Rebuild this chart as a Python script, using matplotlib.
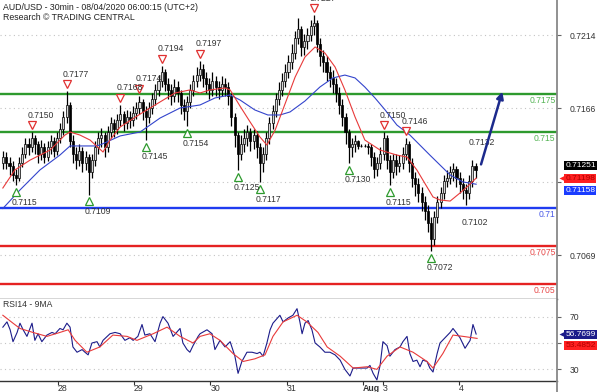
import matplotlib
matplotlib.use("Agg")
import matplotlib.pyplot as plt
import numpy as np
from matplotlib.transforms import offset_copy, blended_transform_factory
from matplotlib.patches import FancyArrowPatch
from matplotlib.lines import Line2D

plt.rcParams['font.family'] = ['Liberation Sans', 'DejaVu Sans']

# ---------------- data (hourly candles, prices in 1/10000) ----------------
open_first = 7130
close_pips = [
    7134, 7130, 7128, 7122, 7120, 7130, 7136, 7142, 7140, 7146,
    7142, 7136, 7140, 7134, 7140, 7144, 7138, 7146, 7152, 7160,
    7168, 7144, 7136, 7132, 7138, 7130, 7134, 7124, 7132, 7140,
    7146, 7148, 7140, 7150, 7156, 7152, 7158, 7162, 7156, 7160,
    7158, 7163, 7166, 7170, 7164, 7160, 7166, 7172, 7178, 7184,
    7190, 7182, 7178, 7174, 7180, 7176, 7168, 7164, 7170, 7178,
    7184, 7188, 7192, 7186, 7182, 7178, 7184, 7180, 7178, 7182,
    7180, 7174, 7160, 7148, 7136, 7142, 7146, 7150, 7144, 7148,
    7140, 7130, 7136, 7146, 7156, 7164, 7172, 7178, 7184, 7190,
    7196, 7202, 7212, 7218, 7206, 7210, 7214, 7220, 7222, 7208,
    7200, 7196, 7190, 7186, 7182, 7176, 7168, 7160, 7150, 7140,
    7142, 7144, 7141, 7141, 7141, 7140, 7134, 7126, 7130, 7136,
    7146, 7132, 7124, 7132, 7128, 7130, 7136, 7142, 7130, 7120,
    7116, 7110, 7104, 7098, 7090, 7080, 7094, 7104, 7110, 7118,
    7120, 7124, 7126, 7120, 7116, 7112, 7110, 7118, 7128, 7125]
high_pips = [
    7138, 7137, 7134, 7131, 7126, 7134, 7140, 7146, 7146, 7150,
    7148, 7144, 7145, 7143, 7144, 7148, 7147, 7150, 7156, 7164,
    7177, 7170, 7148, 7140, 7142, 7140, 7138, 7136, 7136, 7144,
    7150, 7153, 7150, 7154, 7160, 7159, 7162, 7168, 7164, 7165,
    7164, 7167, 7170, 7174, 7172, 7167, 7170, 7176, 7182, 7188,
    7194, 7192, 7186, 7182, 7185, 7184, 7178, 7172, 7174, 7182,
    7188, 7193, 7197, 7195, 7190, 7186, 7190, 7187, 7184, 7187,
    7186, 7183, 7176, 7163, 7150, 7148, 7152, 7155, 7153, 7152,
    7151, 7143, 7140, 7150, 7160, 7168, 7176, 7183, 7189, 7195,
    7201, 7208, 7217, 7225, 7220, 7215, 7219, 7224, 7227, 7224,
    7212, 7204, 7200, 7194, 7191, 7186, 7180, 7172, 7163, 7152,
    7146, 7148, 7145, 7142, 7142, 7143, 7142, 7137, 7134, 7140,
    7150, 7148, 7135, 7136, 7136, 7135, 7140, 7146, 7144, 7133,
    7124, 7120, 7114, 7108, 7102, 7094, 7098, 7108, 7114, 7122,
    7125, 7128, 7130, 7128, 7124, 7120, 7116, 7122, 7132, 7130]
low_pips = [
    7126, 7126, 7122, 7118, 7115, 7118, 7127, 7133, 7135, 7137,
    7136, 7130, 7132, 7130, 7131, 7136, 7134, 7135, 7143, 7148,
    7156, 7140, 7130, 7126, 7128, 7124, 7125, 7109, 7120, 7128,
    7136, 7140, 7134, 7137, 7146, 7147, 7149, 7154, 7151, 7152,
    7153, 7154, 7159, 7162, 7158, 7145, 7156, 7162, 7168, 7174,
    7180, 7177, 7172, 7168, 7170, 7170, 7162, 7158, 7154, 7166,
    7174, 7180, 7184, 7180, 7176, 7172, 7174, 7174, 7172, 7174,
    7174, 7168, 7154, 7140, 7125, 7132, 7137, 7141, 7138, 7139,
    7133, 7117, 7124, 7132, 7142, 7152, 7160, 7168, 7174, 7180,
    7186, 7192, 7198, 7208, 7200, 7201, 7205, 7210, 7214, 7203,
    7194, 7190, 7184, 7180, 7176, 7170, 7162, 7154, 7142, 7130,
    7134, 7137, 7139, 7140, 7140, 7136, 7128, 7120, 7121, 7126,
    7132, 7126, 7115, 7120, 7122, 7124, 7126, 7132, 7124, 7114,
    7108, 7104, 7098, 7092, 7084, 7072, 7076, 7090, 7100, 7106,
    7114, 7116, 7118, 7114, 7110, 7106, 7102, 7106, 7114, 7120]

# moving averages (hour, price)
ma_fast_h = [0.9, 4.7, 9.5, 15.8, 20.5, 22.1, 25.2, 28.4, 32.5, 34.7, 37.9, 44.2, 50.5,
             55.2, 59.9, 63.1, 66.2, 71.0, 72.6, 75.7, 78.9, 82.0, 84.2, 86.8, 89.9,
             93.1, 96.2, 99.4, 102.5, 105.7, 108.8, 112.0, 115.1, 119.9, 125.2, 128.4,
             131.5, 134.7, 136.6, 138.8, 142.0, 145.1, 148.3, 150.2]
ma_fast = [0.71133, 0.71252, 0.71317, 0.71383, 0.71482, 0.71502, 0.71482, 0.71449,
           0.71370, 0.71449, 0.71535, 0.71620, 0.71700, 0.71759, 0.71779, 0.71759,
           0.71779, 0.71792, 0.71779, 0.71673, 0.71568, 0.71469, 0.71416, 0.71515,
           0.71686, 0.71864, 0.71996, 0.72062, 0.72022, 0.71930, 0.71779, 0.71601,
           0.71449, 0.71383, 0.71350, 0.71337, 0.71252, 0.71140, 0.71074, 0.71054,
           0.71047, 0.71100, 0.71159, 0.71198]
ma_slow_h = [0.9, 6.3, 12.6, 18.9, 22.1, 30.0, 31.5, 37.9, 44.2, 50.5, 56.8, 63.1, 67.8,
             72.6, 75.7, 80.4, 84.5, 88.3, 91.5, 96.2, 100.9, 105.0, 108.8, 112.0,
             115.1, 118.3, 121.5, 125.2, 129.3, 135.6, 142.0, 146.0, 150.2]
ma_slow = [0.70998, 0.71120, 0.71252, 0.71350, 0.71410, 0.71410, 0.71416, 0.71476,
           0.71502, 0.71594, 0.71660, 0.71680, 0.71726, 0.71746, 0.71713, 0.71647,
           0.71614, 0.71614, 0.71634, 0.71706, 0.71798, 0.71858, 0.71877, 0.71858,
           0.71798, 0.71726, 0.71647, 0.71548, 0.71482, 0.71350, 0.71219, 0.71173,
           0.71158]

# RSI14 and its 9MA (hour, value)
rsi_h = [0.9, 2.2, 3.2, 4.1, 5.4, 6.3, 7.3, 8.5, 10.1, 11.0, 12.0, 13.2, 14.8, 16.4, 17.4,
         18.9, 19.9, 21.1, 22.1, 23.0, 24.3, 25.9, 26.8, 27.8, 29.0, 30.6, 31.5, 32.5,
         34.7, 36.3, 37.9, 39.4, 41.0, 42.0, 43.5, 44.8, 45.7, 47.3, 48.9, 50.5, 51.4,
         53.0, 54.6, 56.8, 57.7, 59.0, 59.9, 60.9, 62.5, 63.1, 65.3, 66.9, 67.8, 69.4,
         71.0, 72.6, 74.1, 75.1, 76.3, 77.9, 79.5, 81.1, 82.0, 83.0, 84.2, 85.2, 86.1,
         88.3, 89.3, 90.9, 92.4, 93.7, 94.6, 95.3, 96.2, 97.2, 98.4, 99.4, 100.9, 102.5,
         104.1, 105.7, 107.3, 108.8, 110.4, 111.4, 113.6, 115.8, 116.7, 117.7, 118.9,
         119.9, 120.8, 122.1, 123.0, 124.6, 126.2, 127.1, 128.4, 129.3, 130.3, 131.5,
         132.5, 133.4, 134.7, 135.6, 136.6, 137.9, 138.8, 140.4, 142.0, 142.9, 144.2,
         145.1, 146.7, 148.3, 149.2, 150.2]
rsi = [62, 66, 60, 51, 58, 65, 60, 55, 65, 52, 57, 51, 56, 58, 57,
       61, 60, 65, 62, 47, 43, 45, 43, 41, 50, 51, 47, 52,
       57, 58, 57, 52, 54, 52, 55, 64, 56, 57, 51, 65, 70,
       65, 55, 61, 50, 45, 43, 48, 55, 57, 60, 57, 45, 52,
       47, 51, 40, 27, 36, 43, 43, 42, 43, 40, 50, 60, 65,
       71, 66, 69, 71, 76, 66, 57, 65, 67, 60, 50, 47, 43,
       43, 41, 37, 30, 25, 31, 31, 31, 33, 27, 22,
       33, 51, 48, 40, 45, 47, 51, 55, 42, 36, 37,
       32, 37, 36, 31, 28, 42, 50, 54, 58, 61, 57,
       54, 46, 52, 64, 56.7699]
rsi_ma_h = [0.9, 4.1, 6.3, 10.4, 14.8, 18.9, 21.5, 23.7, 27.4, 31.5, 35.6, 40.1, 43.2,
            48.3, 52.7, 56.8, 60.9, 63.1, 66.2, 69.4, 73.5, 76.7, 80.4, 83.6, 86.1,
            89.3, 93.7, 96.8, 100.3, 103.2, 107.3, 111.4, 115.8, 118.9, 122.1, 126.2,
            130.3, 134.7, 136.6, 139.7, 142.9, 146.1, 150.5]
rsi_ma = [71, 65, 61, 58, 55, 58, 60, 52, 43, 47, 56, 55, 52,
          57, 62, 55, 50, 55, 57, 52, 42, 36, 38, 41, 55,
          66, 71, 66, 58, 47, 40, 31, 32, 30, 40, 47,
          43, 36, 31, 42, 56, 55, 53.4852]

levels = [0.7175, 0.715, 0.71, 0.7075, 0.705]
level_colors = ['#2e9a2e', '#2e9a2e', '#1f3cf0', '#e52222', '#e52222']
level_text_colors = ['#55b455', '#55b455', '#4a5ae8', '#e84848', '#e84848']

swing_high_h = [10, 21, 38, 44, 51, 63, 99, 121, 128, 149]
swing_low_h = [5, 28, 46, 59, 75, 82, 110, 123, 136, 147]

price_ticks = [0.7069, 0.71175, 0.7166, 0.7214]
price_tick_labels = ['0.7069', '', '0.7166', '0.7214']
rsi_ticks = [30, 50, 70]
rsi_tick_labels = ['30', '', '70']
day_ticks = [18.3, 42.3, 66.4, 90.5, 114.5, 120.8, 144.8]
day_labels = ['28', '29', '30', '31', 'Aug', '3', '4']

last_close = 0.71251
target_h = [151.5, 158.7]
target_p = [0.71271, 0.71785]

title1 = 'AUD/USD - 30min - 08/04/2020 06:00:15 (UTC+2)'
title2 = 'Research \u00a9 TRADING CENTRAL'

# ---------------- figure ----------------
W, H = 600, 392
fig = plt.figure(figsize=(W / 100, H / 100), dpi=100)
fig.patch.set_facecolor('white')
ax_right = 557 / W
ax = fig.add_axes([0, 1 - 299 / H, ax_right, 299 / H])
ax2 = fig.add_axes([0, 1 - 381 / H, ax_right, 82 / H], sharex=ax)

XMAX = 557 / 3.17
ax.set_xlim(0, XMAX)
ax.set_ylim(0.704018, 0.723715)
ax2.set_ylim(21.2, 83.33)

c = np.array(close_pips) / 10000
hi = np.array(high_pips) / 10000
lo = np.array(low_pips) / 10000
o = np.r_[open_first / 10000, c[:-1]]
hrs = np.arange(1, len(c) + 1)
up = c >= o

grid_kw = dict(color='#c4c4c4', lw=0.8, ls=(0, (1, 3)))
for p in price_ticks:
    ax.axhline(p, zorder=0, **grid_kw)

for lv, col in zip(levels, level_colors):
    ax.axhline(lv, color=col, lw=1.7, zorder=1)

ax.vlines(hrs, lo, hi, color='black', lw=0.9, zorder=3)
ax.bar(hrs[up], np.maximum((c - o)[up], 0.00002), bottom=o[up], width=0.65,
       color='#d8d8d8', edgecolor='black', lw=0.5, zorder=4)
ax.bar(hrs[~up], (o - c)[~up], bottom=c[~up], width=0.65,
       color='black', edgecolor='black', lw=0.5, zorder=4)

ax.plot(ma_slow_h, ma_slow, color='#3344cc', lw=0.8, zorder=5)
ax.plot(ma_fast_h, ma_fast, color='#e83a3a', lw=0.8, zorder=5)

for lv, tc in zip(levels, level_text_colors):
    ax.annotate(f'{lv:g}', xy=(1, lv), xycoords=('axes fraction', 'data'),
                xytext=(-1, -1.5), textcoords='offset points', ha='right', va='top',
                color=tc, fontsize=6.2, annotation_clip=False)

# swing markers
t_up = offset_copy(ax.transData, fig=fig, x=0, y=5.0, units='points')
t_dn = offset_copy(ax.transData, fig=fig, x=0, y=-5.0, units='points')
sh_p = [hi[h - 1] for h in swing_high_h]
sl_p = [lo[h - 1] for h in swing_low_h]
ax.plot(swing_high_h[:-1], sh_p[:-1], 'v', transform=t_up, ms=5.5, mfc='white',
        mec='#e03030', mew=0.9, zorder=6)
ax.plot(swing_low_h[:-1], sl_p[:-1], '^', transform=t_dn, ms=5.5, mfc='white',
        mec='#2e9a2e', mew=0.9, zorder=6)
for h_, p_ in zip(swing_high_h, sh_p):
    ax.annotate(f'{p_:.4f}', xy=(h_, p_), xytext=(-3, 12.3), textcoords='offset points',
                ha='left', va='center', fontsize=6.2, color='#333333', zorder=7,
                annotation_clip=False)
for h_, p_ in zip(swing_low_h, sl_p):
    ax.annotate(f'{p_:.4f}', xy=(h_, p_), xytext=(-3, -12.3), textcoords='offset points',
                ha='left', va='center', fontsize=6.2, color='#333333', zorder=7,
                annotation_clip=False)

# target arrow
ax.add_patch(FancyArrowPatch((target_h[0], target_p[0]), (target_h[1], target_p[1]),
                             arrowstyle='-|>', mutation_scale=10, lw=1.8,
                             color='#1c2a8c', zorder=8))

# axes styling
for a in (ax, ax2):
    a.set_facecolor('white')
    a.spines['left'].set_visible(False)
    a.spines['top'].set_visible(False)
    a.spines['right'].set_visible(False)
    a.spines['bottom'].set_color('#333333')
    a.spines['bottom'].set_linewidth(1.0)
    a.yaxis.tick_right()
    a.tick_params(axis='y', length=3, width=0.8, color='#666666', labelsize=6.2,
                  labelcolor='#333333', pad=6)

ax.set_yticks(price_ticks)
ax.set_yticklabels(price_tick_labels)
ax.tick_params(axis='x', bottom=False, labelbottom=False)

# RSI panel
for v in rsi_ticks:
    ax2.axhline(v, zorder=0, **grid_kw)
ax2.plot(rsi_h, rsi, color='#1c1c8a', lw=0.8, zorder=3)
ax2.plot(rsi_ma_h, rsi_ma, color='#e83a3a', lw=0.8, zorder=4)
ax2.set_yticks(rsi_ticks)
ax2.set_yticklabels(rsi_tick_labels)
ax2.set_xticks(day_ticks)
ax2.set_xticklabels(day_labels)
ax2.tick_params(axis='x', length=3, width=0.8, color='#333333', labelsize=6.3,
                labelcolor='#333333', pad=-0.5)
for lab in ax2.get_xticklabels():
    lab.set_ha('left')
    if lab.get_text() == 'Aug':
        lab.set_fontweight('bold')
ax2.text(0.005, 0.93, 'RSI14 - 9MA', transform=ax2.transAxes, fontsize=6.2,
         color='#333333', va='center', ha='left')

# value boxes on the right
def value_box(a, val, txt, fc, tc, dy, arrow=False):
    a.annotate(txt, xy=(1, val), xycoords=('axes fraction', 'data'),
               xytext=(6.0, dy), textcoords='offset points', ha='left', va='center',
               fontsize=6.0, color=tc, zorder=10, annotation_clip=False,
               bbox=dict(boxstyle='square,pad=0.12', fc=fc, ec='none'))
    if arrow:
        tr = offset_copy(blended_transform_factory(a.transAxes, a.transData), fig=fig,
                         x=3.8, y=dy, units='points')
        a.plot([1], [val], marker='<', ms=5.0, color=fc, mec='none', transform=tr,
               clip_on=False, zorder=10)

value_box(ax, last_close, f'{last_close:.5f}', '#000000', 'white', 3.0)
value_box(ax, ma_fast[-1], f'{ma_fast[-1]:.5f}', '#ff2020', '#b00000', 0.0, arrow=True)
value_box(ax, ma_slow[-1], f'{ma_slow[-1]:.5f}', '#1a3cff', 'white', -4.2)
value_box(ax2, rsi[-1], f'{rsi[-1]:.4f}', '#1c1c8a', 'white', 0.0, arrow=True)
value_box(ax2, rsi_ma[-1], f'{rsi_ma[-1]:.4f}', '#ff2020', '#b00000', -5.4)

# right axis line running through both panels
fig.add_artist(Line2D([ax_right, ax_right], [0, 1], transform=fig.transFigure,
                      color='#888888', lw=1.3))

fig.text(3 / W, 1 - 7 / H, title1, fontsize=6.3, color='#222222', va='center', ha='left')
fig.text(3 / W, 1 - 18 / H, title2, fontsize=6.3, color='#222222', va='center', ha='left')

fig.savefig('out.png', dpi=100, facecolor='white')
